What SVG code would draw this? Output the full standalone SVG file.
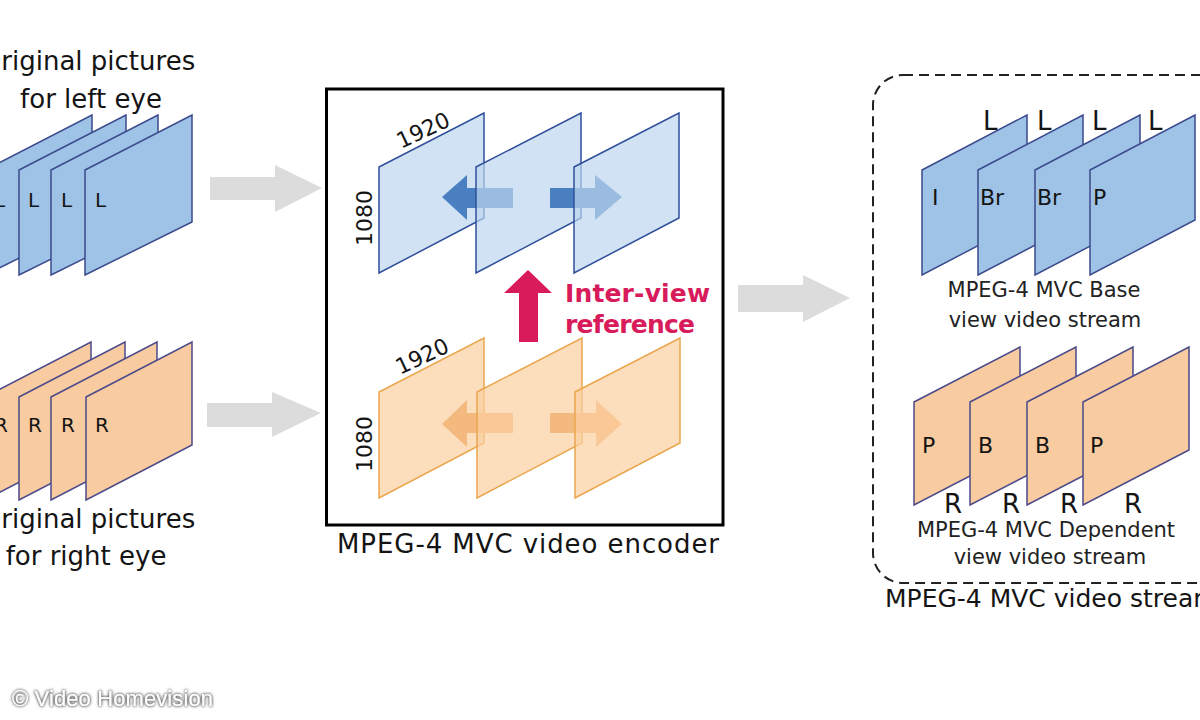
<svg xmlns="http://www.w3.org/2000/svg" width="1200" height="720" viewBox="0 0 1200 720">
<style>
  .t{font-family:"DejaVu Sans","Liberation Sans",sans-serif;fill:#141414}
  .lbl{font-family:"DejaVu Sans","Liberation Sans",sans-serif;fill:#222}
  .bf{fill:#9fc3e6;stroke:#3b4a8c;stroke-width:1.5}
  .of{fill:#f8cba0;stroke:#4a4a8a;stroke-width:1.5}
  .mb{fill:#bcd5ee;fill-opacity:0.7;stroke:#2f4f9a;stroke-width:1.5}
  .mo{fill:#fbcf9f;fill-opacity:0.7;stroke:#eaa64e;stroke-width:1.5}
  .gray{fill:#dcdcdc}
  .ba{fill:#4a80c2}
  .oa{fill:#f3b97f}
</style>
<defs>
  <polygon id="fb" points="0,55 107,0 107,107 0,160"/>
  <polygon id="fo" points="0,55 106,0 106,103 0,158"/>
  <polygon id="fm" points="0,54 105,0 105,105 0,160"/>
  <polygon id="fr" points="0,55 105,0 105,105 0,160"/>
  <filter id="glow" x="-10%" y="-40%" width="120%" height="180%">
    <feGaussianBlur in="SourceAlpha" stdDeviation="1.6" result="b"/>
    <feFlood flood-color="#555"/>
    <feComposite in2="b" operator="in" result="s"/>
    <feMerge><feMergeNode in="s"/><feMergeNode in="s"/><feMergeNode in="SourceGraphic"/></feMerge>
  </filter>
</defs>
<rect width="1200" height="720" fill="#fff"/>

<!-- Left: original pictures for left eye -->
<g id="left-eye">
  <text class="t" x="88" y="70" font-size="26" text-anchor="middle">Original pictures</text>
  <text class="t" x="91" y="108" font-size="26" text-anchor="middle">for left eye</text>
  <use href="#fb" class="bf" x="-15" y="115"/>
  <text class="t" x="-6" y="207" font-size="20">L</text>
  <use href="#fb" class="bf" x="19" y="115"/>
  <text class="t" x="28" y="207" font-size="20">L</text>
  <use href="#fb" class="bf" x="51" y="115"/>
  <text class="t" x="61" y="207" font-size="20">L</text>
  <use href="#fb" class="bf" x="85" y="115"/>
  <text class="t" x="95" y="207" font-size="20">L</text>
</g>

<!-- Left: original pictures for right eye -->
<g id="right-eye">
  <use href="#fo" class="of" x="-15" y="342"/>
  <text class="t" x="-6" y="432" font-size="20">R</text>
  <use href="#fo" class="of" x="19" y="342"/>
  <text class="t" x="28" y="432" font-size="20">R</text>
  <use href="#fo" class="of" x="51" y="342"/>
  <text class="t" x="61" y="432" font-size="20">R</text>
  <use href="#fo" class="of" x="86" y="342"/>
  <text class="t" x="95" y="432" font-size="20">R</text>
  <text class="t" x="88" y="528" font-size="26" text-anchor="middle">Original pictures</text>
  <text class="t" x="86" y="565" font-size="26" text-anchor="middle">for right eye</text>
</g>

<!-- Encoder -->
<g id="encoder">
  <rect x="326.5" y="89" width="396.5" height="436" fill="#fff" stroke="#000" stroke-width="3"/>
  <text class="t" x="528" y="553" font-size="26" text-anchor="middle" textLength="382">MPEG-4 MVC video encoder</text>
  <!-- blue view -->
  <use href="#fm" class="mb" x="379" y="113"/>
  <polygon class="ba" points="442,197 467,175 467,188 513,188 513,208 467,208 467,220"/>
  <use href="#fm" class="mb" x="476" y="113"/>
  <polygon class="ba" points="550,188 595,188 595,175 622,197 595,220 595,208 550,208"/>
  <use href="#fm" class="mb" x="574" y="113"/>
  <text class="t" font-size="22" transform="translate(401,149) rotate(-25)">1920</text>
  <text class="t" font-size="22" text-anchor="middle" transform="translate(372,218) rotate(-90)">1080</text>
  <!-- orange view -->
  <use href="#fm" class="mo" x="379" y="338"/>
  <polygon class="oa" points="442,424 467,400 467,413 513,413 513,433 467,433 467,447"/>
  <use href="#fm" class="mo" x="477" y="338"/>
  <polygon class="oa" points="550,413 596,413 596,400 622,424 596,447 596,433 550,433"/>
  <use href="#fm" class="mo" x="575" y="338"/>
  <text class="t" font-size="22" transform="translate(400,375) rotate(-25)">1920</text>
  <text class="t" font-size="22" text-anchor="middle" transform="translate(372,444) rotate(-90)">1080</text>
  <!-- inter-view -->
  <text x="565" y="302" font-size="25" font-weight="bold" fill="#d81b5a" font-family="DejaVu Sans, Liberation Sans, sans-serif" textLength="145">Inter-view</text>
  <text x="565" y="333" font-size="25" font-weight="bold" fill="#d81b5a" font-family="DejaVu Sans, Liberation Sans, sans-serif" textLength="130">reference</text>
</g>

<!-- Output stream -->
<g id="stream">
  <rect x="873" y="75" width="400" height="508" rx="30" ry="30" fill="none" stroke="#222" stroke-width="2" stroke-dasharray="10 6"/>
  <text class="t" x="885" y="607" font-size="25">MPEG-4 MVC video stream</text>
</g>

<g id="base-view">
  <text class="t" x="983" y="130" font-size="26">L</text>
  <text class="t" x="1037" y="130" font-size="26">L</text>
  <text class="t" x="1092" y="130" font-size="26">L</text>
  <text class="t" x="1148" y="130" font-size="26">L</text>
  <use href="#fr" class="bf" x="922" y="115"/>
  <text class="t" x="932" y="205" font-size="22">I</text>
  <use href="#fr" class="bf" x="978" y="115"/>
  <text class="t" x="980" y="205" font-size="22">Br</text>
  <use href="#fr" class="bf" x="1035" y="115"/>
  <text class="t" x="1037" y="205" font-size="22">Br</text>
  <use href="#fr" class="bf" x="1090" y="115"/>
  <text class="t" x="1093" y="205" font-size="22">P</text>
  <text class="lbl" x="1044" y="297" font-size="21" text-anchor="middle">MPEG-4 MVC Base</text>
  <text class="lbl" x="1045" y="327" font-size="21" text-anchor="middle">view video stream</text>
</g>

<g id="dependent-view">
  <use href="#fo" class="of" x="914" y="347"/>
  <text class="t" x="922" y="453" font-size="22">P</text>
  <use href="#fo" class="of" x="970" y="347"/>
  <text class="t" x="978" y="453" font-size="22">B</text>
  <use href="#fo" class="of" x="1027" y="347"/>
  <text class="t" x="1035" y="453" font-size="22">B</text>
  <use href="#fo" class="of" x="1083" y="347"/>
  <text class="t" x="1090" y="453" font-size="22">P</text>
  <text class="t" x="944" y="513" font-size="26">R</text>
  <text class="t" x="1002" y="513" font-size="26">R</text>
  <text class="t" x="1060" y="513" font-size="26">R</text>
  <text class="t" x="1124" y="513" font-size="26">R</text>
  <text class="lbl" x="1046" y="537" font-size="21" text-anchor="middle">MPEG-4 MVC Dependent</text>
  <text class="lbl" x="1050" y="564" font-size="21" text-anchor="middle">view video stream</text>
</g>

<g id="connectors">
  <polygon class="gray" points="210,177 275,177 275,165 322,188 275,212 275,200 210,200"/>
  <polygon class="gray" points="207,403 272,403 272,392 321,413 272,437 272,427 207,427"/>
  <polygon class="gray" points="738,285 803,285 803,275 850,298 803,322 803,312 738,312"/>
  <polygon fill="#d91a5b" points="528,270 552,293 538,293 538,342 519,342 519,293 504,293"/>
</g>

<g id="credit">
  <text x="12" y="706" font-size="22" fill="#fff" font-family="Liberation Sans, Arial, sans-serif" textLength="201" filter="url(#glow)">© Video Homevision</text>
</g>
</svg>
